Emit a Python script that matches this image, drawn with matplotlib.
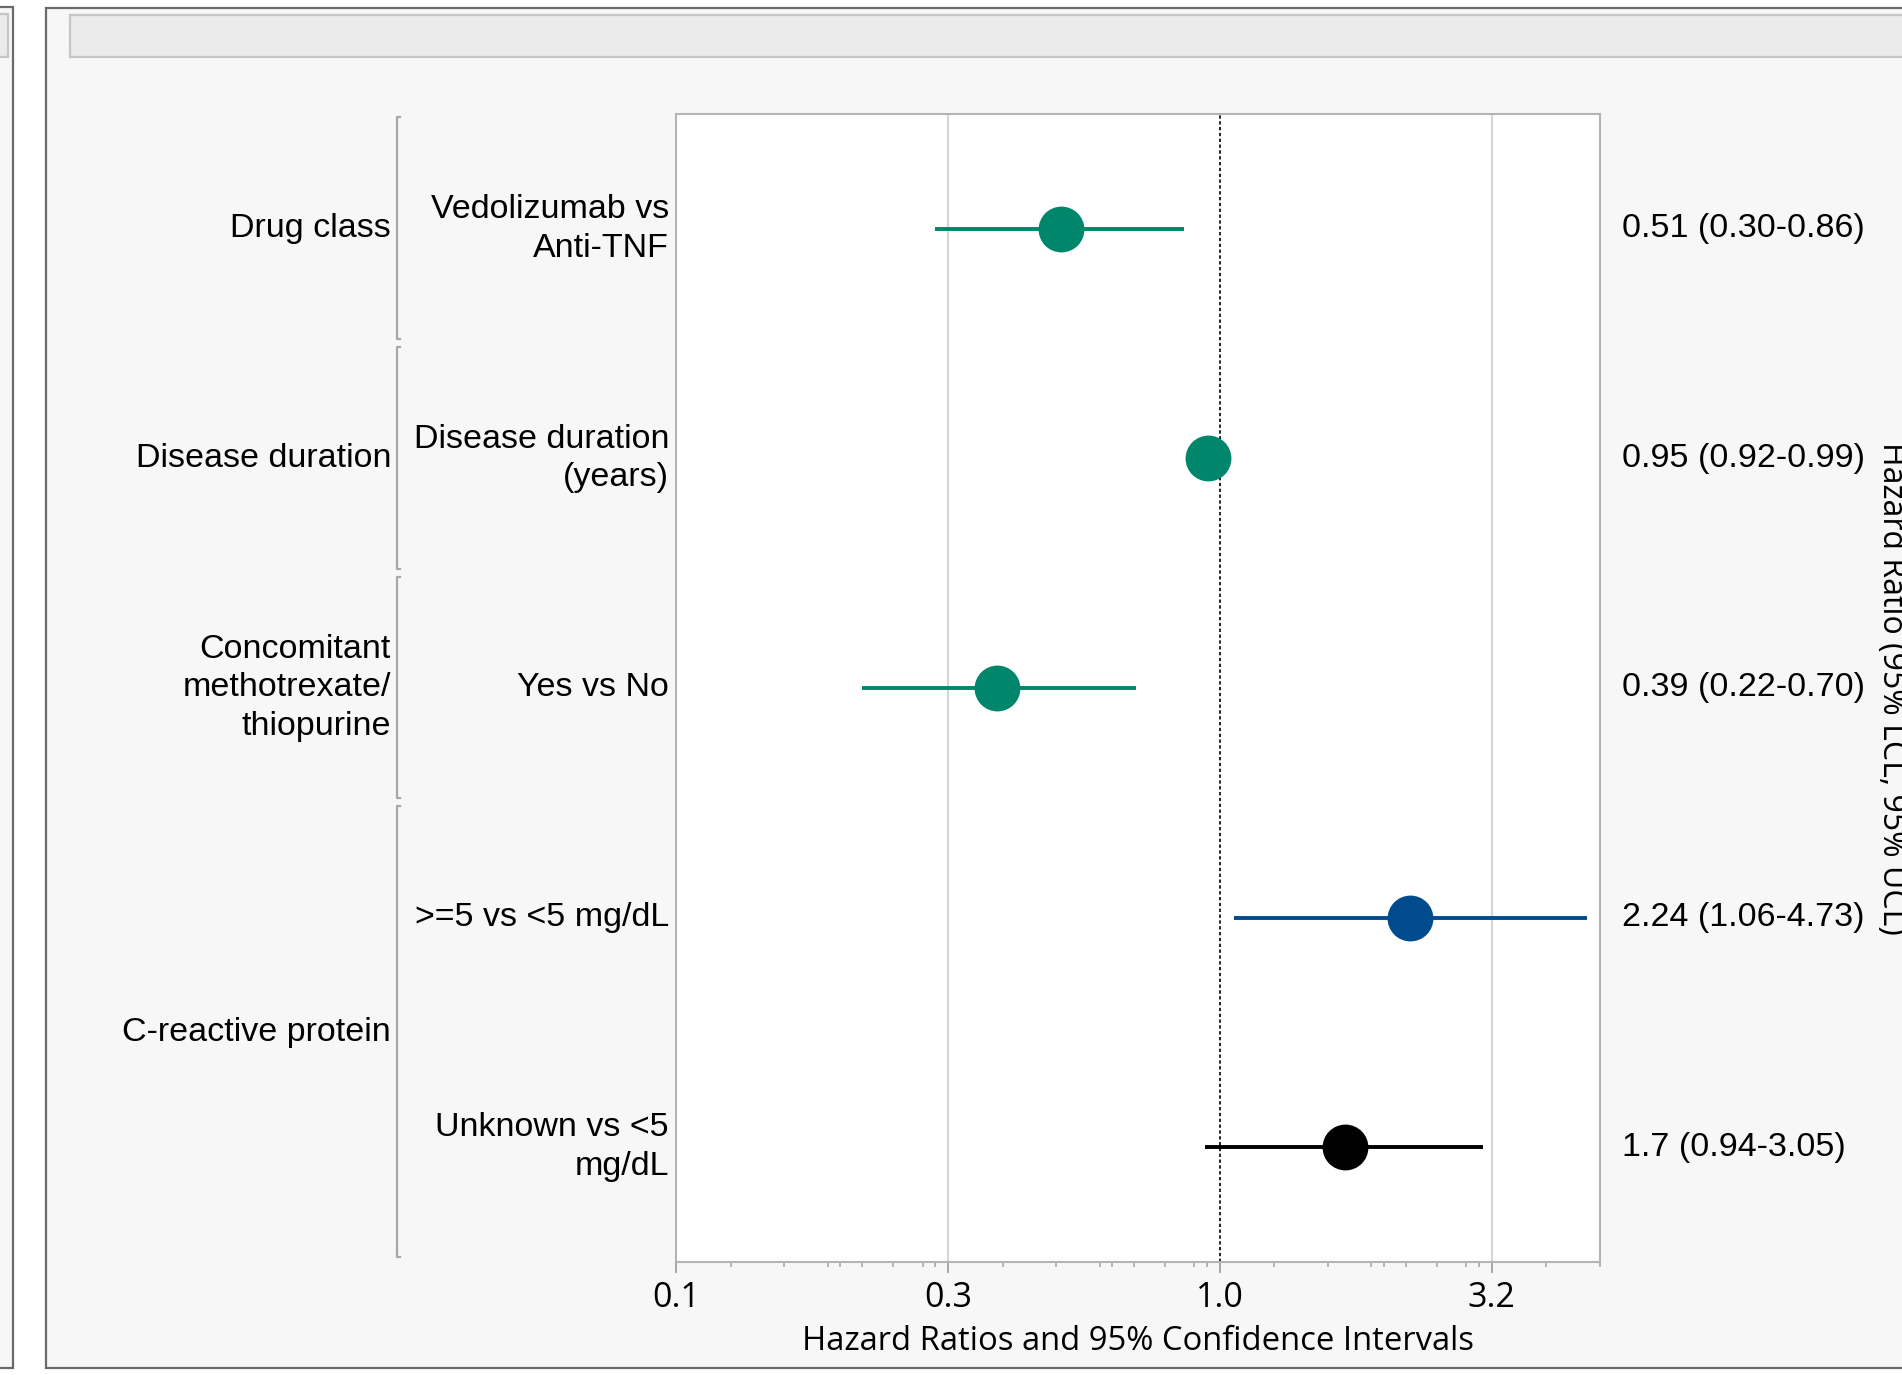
import matplotlib
matplotlib.use('Agg')
import matplotlib.pyplot as plt
import matplotlib.transforms as mtransforms
from matplotlib.patches import Rectangle
import numpy as np

# forest plot: hazard ratios with 95% CI (log x axis)

groups = ['Drug class', 'Disease duration', 'Concomitant\nmethotrexate/\nthiopurine', 'C-reactive protein']
group_rows = [[1], [2], [3], [4, 5]]
labels = ['Vedolizumab vs\nAnti-TNF', 'Disease duration\n(years)', 'Yes vs No',
          '>=5 vs <5 mg/dL', 'Unknown vs <5\nmg/dL']
hr = [0.51, 0.95, 0.39, 2.24, 1.7]
lcl = [0.30, 0.92, 0.22, 1.06, 0.94]
ucl = [0.86, 0.99, 0.70, 4.73, 3.05]
ci_text = ['0.51 (0.30-0.86)', '0.95 (0.92-0.99)', '0.39 (0.22-0.70)',
           '2.24 (1.06-4.73)', '1.7 (0.94-3.05)']
major_ticks = [0.1, 10**-0.5, 1.0, 10**0.5]
major_labels = ['0.1', '0.3', '1.0', '3.2']
minor_mult = [1.26, 1.58, 1.9, 2.0, 2.2, 2.51, 2.84, 3.0]

green = '#00866a'
blue = '#004b8d'
row_colors = [green, green, green, blue, 'black']

W, H = 1902, 1375
fig = plt.figure(figsize=(W/100, H/100), dpi=100)
fig.patch.set_facecolor('white')

def fx(px):
    return px / W

def fy(py):
    return 1 - py / H

# window frames (behind the axes)
frames = [
    ((-20, 7, 33, 1368), '#f7f7f7', '#6a6a6a', -3),
    ((-20, 14, 28, 57), '#ebebeb', '#c6c6c6', -2),
    ((46, 8, 1900, 1368), '#f7f7f7', '#6a6a6a', -3),
    ((70, 15, 1900, 57), '#ebebeb', '#c6c6c6', -2),
]
for (x0, y0, w, y1), fc, ec, z in frames:
    fig.patches.append(Rectangle((fx(x0), fy(y1)), fx(w), fy(y0) - fy(y1), transform=fig.transFigure,
                                 facecolor=fc, edgecolor=ec, lw=1.6, zorder=z))

ax = fig.add_axes([fx(676), fy(1262), fx(1600) - fx(676), fy(114) - fy(1262)])
ax.set_zorder(2)
ax.set_facecolor('white')
ax.set_xscale('log')
ax.set_xlim(0.1, 5.0)
ax.set_ylim(5.5, 0.5)

for v in [10**-0.5, 10**0.5]:
    ax.axvline(v, color='#d6d6d6', lw=1.6, zorder=1)
ax.axvline(1.0, color='black', lw=1.2, ls=(0, (2, 1.5)), zorder=2)

y = np.arange(1, len(hr) + 1)
for i in range(len(hr)):
    ax.hlines(y[i], lcl[i], ucl[i], color=row_colors[i], lw=2.8, zorder=3)
    ax.plot(hr[i], y[i], 'o', color=row_colors[i], markersize=33, markeredgewidth=0, zorder=4)

ax.set_yticks([])
ax.set_xticks(major_ticks)
ax.set_xticklabels(major_labels)
minors = []
for m in major_ticks:
    for k in minor_mult:
        if m * k < 5.0:
            minors.append(m * k)
ax.set_xticks(minors, minor=True)
ax.xaxis.set_minor_formatter(matplotlib.ticker.NullFormatter())
ax.tick_params(axis='x', which='major', length=8, width=1.4, color='#a8a8a8', pad=6,
               labelsize=24.5, labelcolor='black')
ax.tick_params(axis='x', which='minor', length=3.8, width=1.2, color='#a8a8a8')
for lab in ax.get_xticklabels():
    lab.set_family(['Open Sans', 'DejaVu Sans'])
for s in ax.spines.values():
    s.set_color('#b4b4b4')
    s.set_linewidth(1.5)

ax.set_xlabel('Hazard Ratios and 95% Confidence Intervals', fontsize=23.6,
              family=['Open Sans', 'DejaVu Sans'])
ax.xaxis.label.set_va('center')
ax.xaxis.set_label_coords(0.5, (1262 - 1342) / 1148)

# left labels
tr = mtransforms.blended_transform_factory(fig.transFigure, ax.transData)
lab_font = dict(family=['Liberation Sans', 'DejaVu Sans'], fontsize=24.5, color='black',
                linespacing=1.32)
for i, lab in enumerate(labels):
    fig.text(fx(669), y[i], lab, transform=tr, ha='right', va='center', **lab_font)
for g, rows in zip(groups, group_rows):
    fig.text(fx(391), np.mean(rows), g, transform=tr, ha='right', va='center', **lab_font)
    y0, y1 = rows[0] - 0.5 + 0.015, rows[-1] + 0.5 - 0.02
    bx = fx(397)
    fig.add_artist(matplotlib.lines.Line2D([bx + fx(3), bx, bx, bx + fx(3)], [y0, y0, y1, y1],
                                           transform=tr, color='#a8a8a8', lw=1.6))

# right CI text
for i, t in enumerate(ci_text):
    fig.text(fx(1622), y[i], t, transform=tr, ha='left', va='center', **lab_font)

fig.text(fx(1875), fy(688), 'Hazard Ratio (95% LCL, 95% UCL)', rotation=-90,
         ha='left', va='center', fontsize=23, family=['Open Sans', 'DejaVu Sans'])

plt.savefig('out.png', dpi=100)
